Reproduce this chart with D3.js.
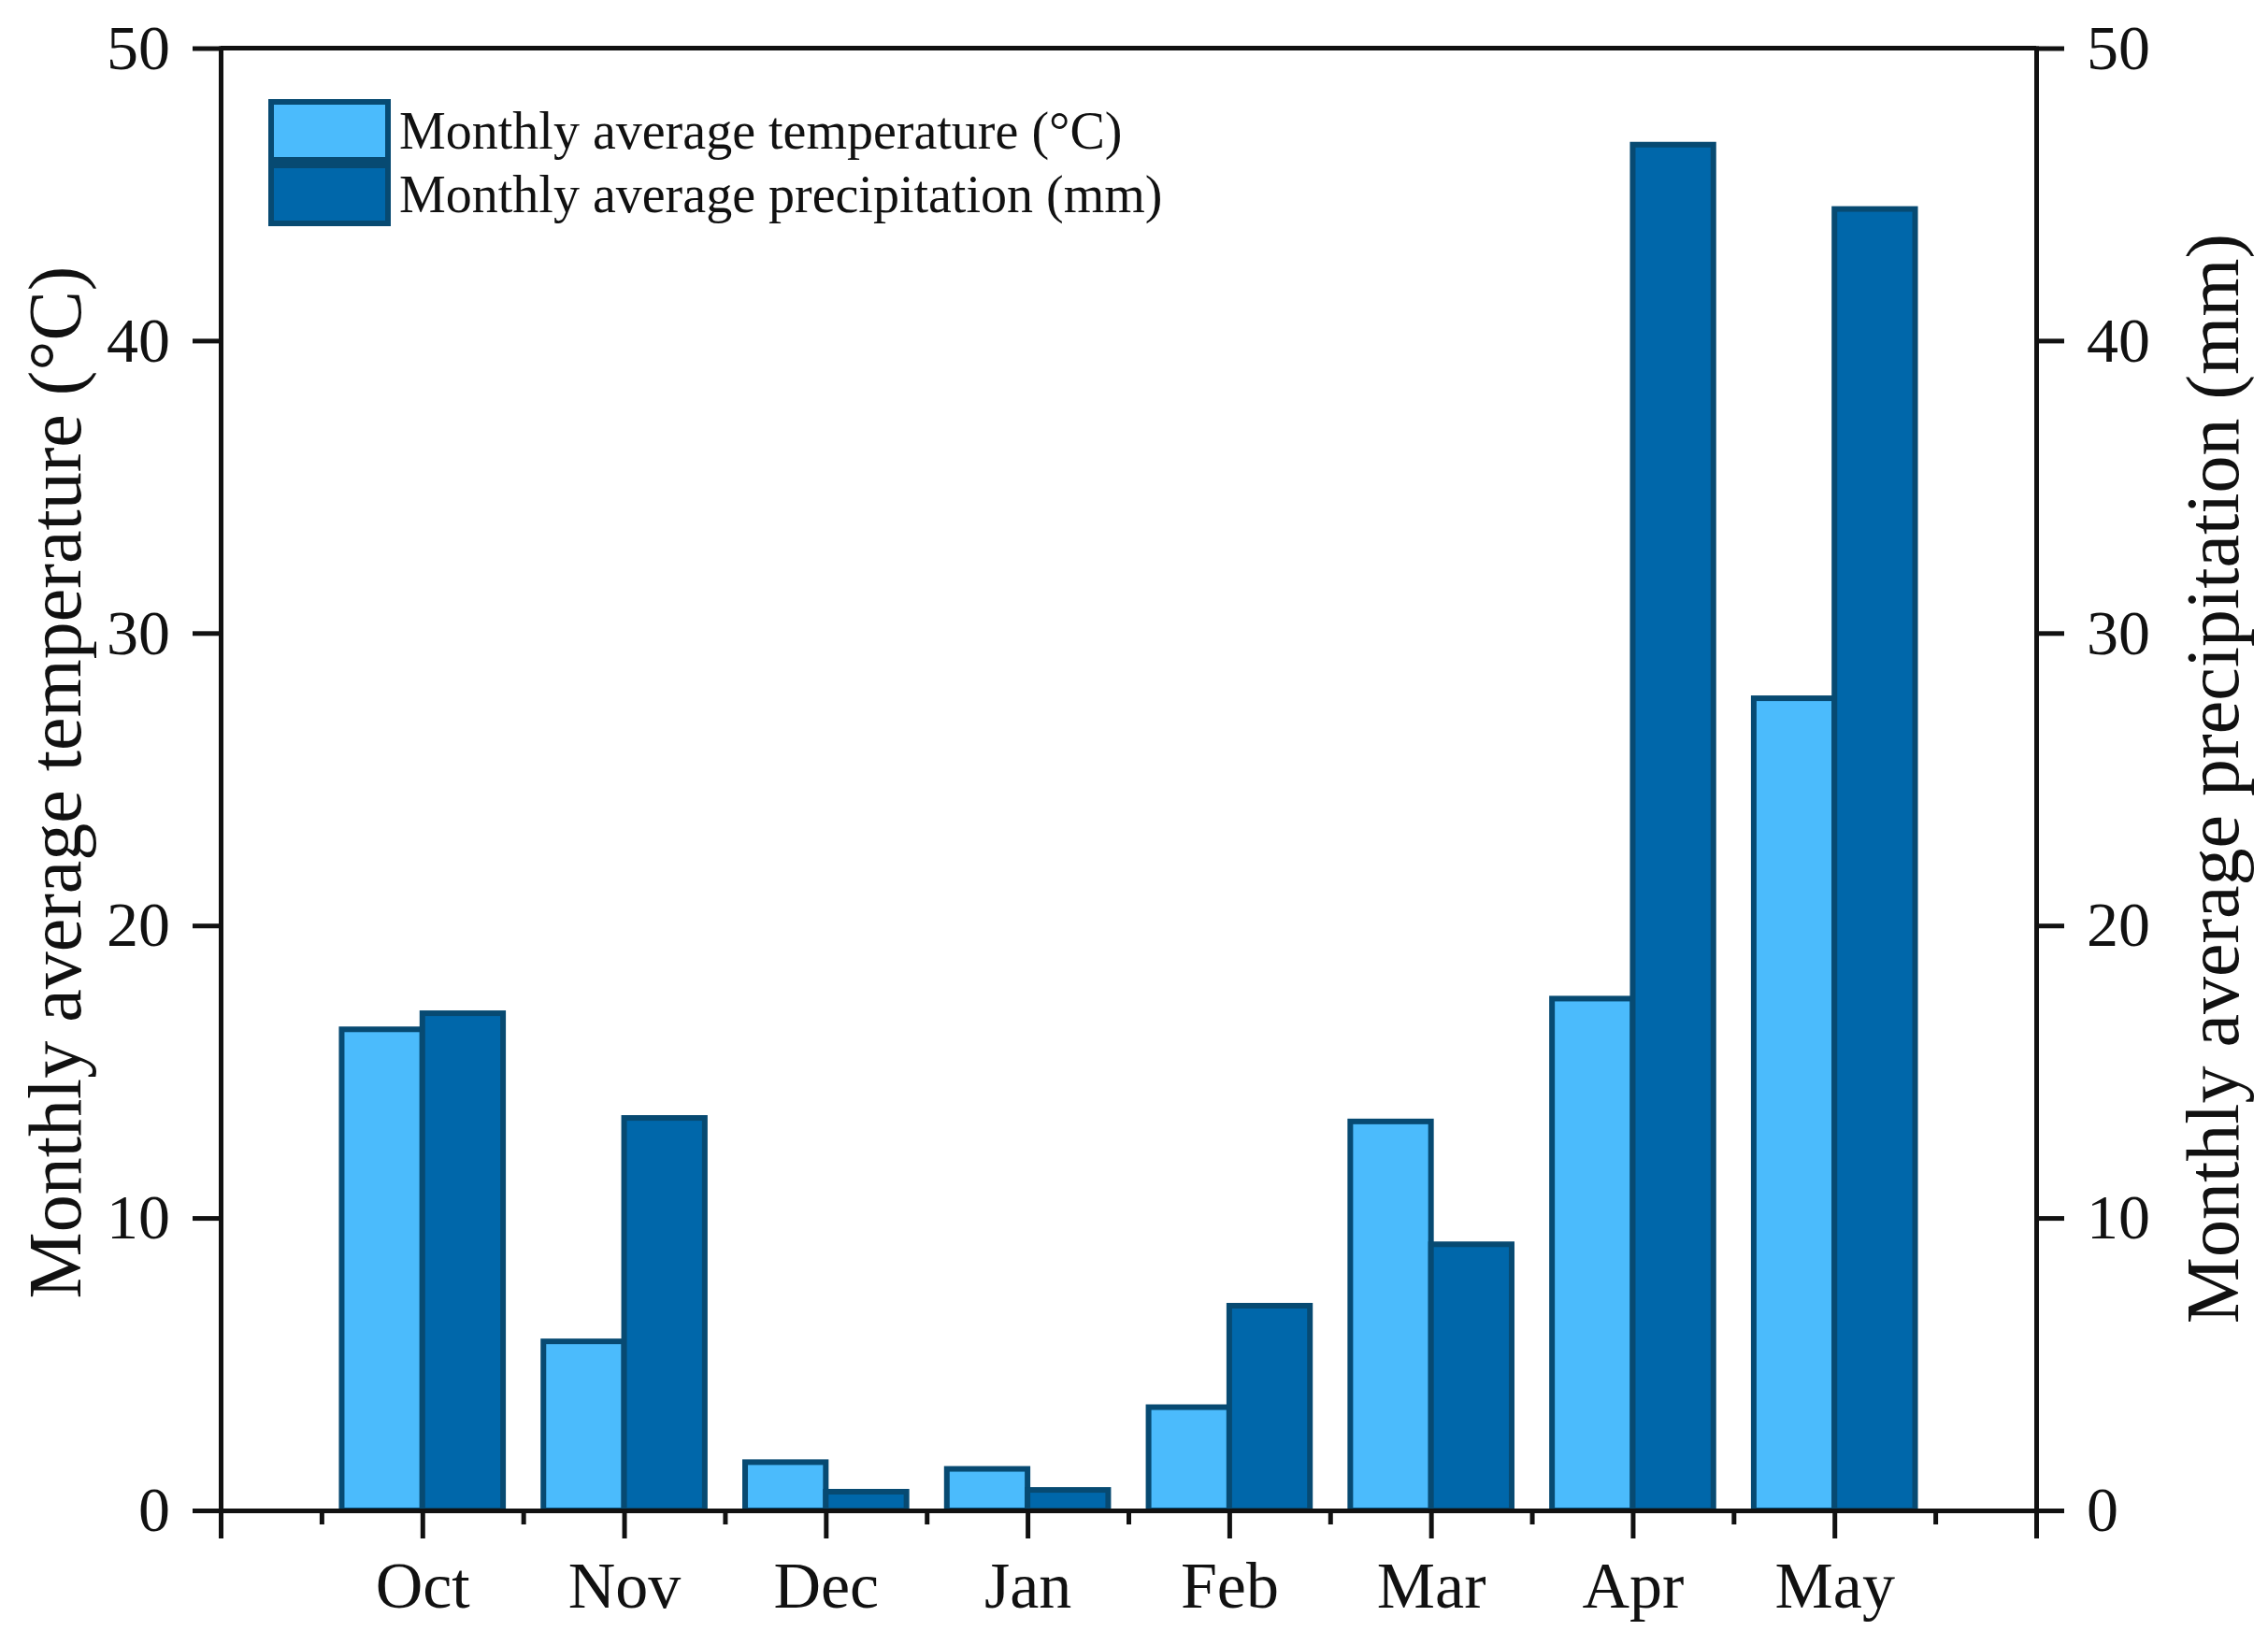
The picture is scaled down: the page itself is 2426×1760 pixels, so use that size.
<!DOCTYPE html>
<html>
<head>
<meta charset="utf-8">
<script src="https://cdn.jsdelivr.net/npm/d3@7"></script>
<style>
  html, body { margin: 0; padding: 0; background: #fff; }
  svg text { font-family: "Liberation Serif", "Times New Roman", serif; fill: #111; }
</style>
</head>
<body>
<div id="chart"></div>
<script>
// data
const months = ["Oct", "Nov", "Dec", "Jan", "Feb", "Mar", "Apr", "May"];
const temperature = [16.45, 5.78, 1.65, 1.42, 3.53, 13.3, 17.5, 27.77];
const precipitation = [17.0, 13.42, 0.64, 0.70, 7.0, 9.1, 46.7, 44.5];
const yTicks = [0, 10, 20, 30, 40, 50];
const seriesNames = ["Monthly average temperature (\u00B0C)", "Monthly average precipitation (mm)"];

const W = 2426, H = 1760;
const plot = {left: 236, right: 2178, top: 51.5, bottom: 1616};
const colTemp = "#4bbbfc", colPrec = "#0067aa", colEdge = "#074a72";
const barW = 0.4;

const svg = d3.select("#chart").append("svg")
    .attr("width", W).attr("height", H)
    .style("background-color", "#fff");

var x = d3.scaleLinear().domain([0, months.length + 1]).range([plot.left, plot.right]),
    yL = d3.scaleLinear().domain([0, 50]).range([plot.bottom, plot.top]),
    yR = d3.scaleLinear().domain([0, 50]).range([plot.bottom, plot.top]);

// bars
var groups = [
  {name: seriesNames[0], values: temperature, fill: colTemp, off: -barW, scale: yL},
  {name: seriesNames[1], values: precipitation, fill: colPrec, off: 0, scale: yR}
];

groups.forEach(function(s) {
  svg.append("g").selectAll("rect")
    .data(s.values)
    .enter().append("rect")
      .attr("x", function(d, i) { return x(i + 1 + s.off); })
      .attr("width", x(barW) - x(0))
      .attr("y", function(d) { return s.scale(d); })
      .attr("height", function(d) { return s.scale(0) - s.scale(d); })
      .attr("fill", s.fill)
      .attr("stroke", colEdge)
      .attr("stroke-width", 6);
});

// frame top
svg.append("line")
    .attr("x1", plot.left).attr("x2", plot.right)
    .attr("y1", plot.top).attr("y2", plot.top)
    .attr("stroke", "#111").attr("stroke-width", 5);

function styleAxis(g) {
  g.selectAll("path, line").attr("stroke", "#111").attr("stroke-width", 5);
  g.select(".domain").attr("stroke-linecap", "square");
  g.selectAll("text").attr("fill", "#111")
    .style("font-family", "'Liberation Serif', 'Times New Roman', serif");
}

// left axis
svg.append("g")
    .attr("transform", "translate(" + plot.left + ",0)")
    .call(d3.axisLeft(yL).tickValues(yTicks).tickSize(30).tickSizeOuter(0).tickPadding(24))
    .call(styleAxis)
    .selectAll("text").style("font-size", "68px");

// right axis
svg.append("g")
    .attr("transform", "translate(" + plot.right + ",0)")
    .call(d3.axisRight(yR).tickValues(yTicks).tickSize(30).tickSizeOuter(0).tickPadding(24))
    .call(styleAxis)
    .selectAll("text").style("font-size", "68px");

// bottom axis: minor ticks first, then major with month labels
svg.append("g")
    .attr("transform", "translate(0," + plot.bottom + ")")
    .call(d3.axisBottom(x).tickValues(d3.range(0.5, months.length + 1, 1)).tickSize(15).tickSizeOuter(0).tickFormat(""))
    .call(styleAxis);

svg.append("g")
    .attr("transform", "translate(0," + plot.bottom + ")")
    .call(d3.axisBottom(x).tickValues(d3.range(0, months.length + 2))
        .tickSize(30).tickSizeOuter(0).tickPadding(24)
        .tickFormat(function(i) { return months[i - 1] || ""; }))
    .call(styleAxis)
    .selectAll("text").style("font-size", "70px");

// axis titles
svg.append("text")
    .attr("transform", "translate(86,837) rotate(-90)")
    .attr("text-anchor", "middle")
    .style("font-size", "80px")
    .text("Monthly average temperature (\u00B0C)");

svg.append("text")
    .attr("transform", "translate(2394,833) rotate(-90)")
    .attr("text-anchor", "middle")
    .style("font-size", "80px")
    .text("Monthly average precipitation (mm)");

// legend
var legend = svg.append("g").attr("transform", "translate(290,109)");
var item = legend.selectAll("g")
    .data(groups)
    .enter().append("g")
      .attr("transform", function(d, i) { return "translate(0," + (i * 68) + ")"; });

item.append("rect")
    .attr("width", 125).attr("height", 62)
    .attr("fill", function(d) { return d.fill; })
    .attr("stroke", colEdge).attr("stroke-width", 6);

item.append("text")
    .attr("x", 137).attr("y", 50)
    .style("font-size", "56px")
    .text(function(d) { return d.name; });
</script>
</body>
</html>
